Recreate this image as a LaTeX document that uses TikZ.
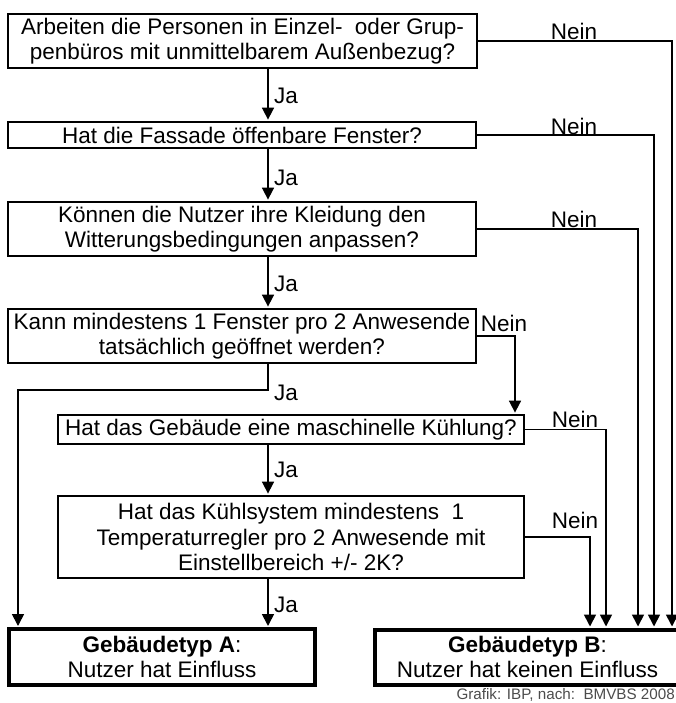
\documentclass[tikz,border=0pt]{standalone}
\usepackage{fontspec}
\setmainfont{Liberation Sans}
\usetikzlibrary{arrows.meta}
\newcommand\mainfs{\fontsize{22.5}{25.5}\selectfont}
\begin{document}
\begin{tikzpicture}[x=1pt,y=-1pt,
  qbox/.style={draw=black, line width=2.8pt, align=center, inner sep=0pt, font=\mainfs, text=black},
  rbox/.style={draw=black, line width=4pt, align=center, inner sep=0pt, font=\mainfs, text=black},
  lbl/.style={font=\mainfs, inner sep=0pt, text=black},
  conn/.style={line width=1.7pt},
  arr/.style={conn, -{Triangle[length=12pt,width=12pt]}, shorten >=1pt}]
\fill[white] (0,0) rectangle (676,703);
\path[use as bounding box, clip] (0,0) rectangle (676,703);

% question boxes
\node[qbox, minimum width=469pt, minimum height=54pt] (b1) at (242.5,41)
  {Arbeiten die Personen in Einzel-~ oder Grup-\\penbüros mit unmittelbarem Außenbezug?};
\node[qbox, minimum width=468pt, minimum height=26pt] (b2) at (242,135)
  {Hat die Fassade öffenbare Fenster?};
\node[qbox, minimum width=468pt, minimum height=54pt] (b3) at (242,229)
  {Können die Nutzer ihre Kleidung den\\Witterungsbedingungen anpassen?};
\node[qbox, minimum width=468pt, minimum height=54pt] (b4) at (242,336)
  {Kann mindestens 1 Fenster pro 2 Anwesende\\tatsächlich geöffnet werden?};
\node[qbox, minimum width=466pt, minimum height=29pt] (b5) at (291,429.5)
  {Hat das Gebäude eine maschinelle Kühlung?};
\node[qbox, minimum width=466pt, minimum height=82pt] (b6) at (291,537)
  {Hat das Kühlsystem mindestens~ 1\\Temperaturregler pro 2 Anwesende mit\\Einstellbereich +/- 2K?};

% result boxes
\node[rbox, minimum width=306pt, minimum height=56pt] (ba) at (162,657)
  {\textbf{Gebäudetyp A}:\\Nutzer hat Einfluss};
\node[rbox, minimum width=305pt, minimum height=55pt] (bb) at (527.5,657)
  {\textbf{Gebäudetyp B}:\\Nutzer hat keinen Einfluss};

% helper coordinates
\coordinate (jx) at (268,0);
\coordinate (jl) at (18,390);
\coordinate (n1) at (672,0);
\coordinate (n2) at (654,0);
\coordinate (n3) at (638,0);
\coordinate (n4) at (515,0);
\coordinate (n5) at (606,0);
\coordinate (n6) at (590,0);

% Ja connectors
\draw[arr] (b1.south -| jx) -- (b2.north -| jx);
\draw[arr] (b2.south -| jx) -- (b3.north -| jx);
\draw[arr] (b3.south -| jx) -- (b4.north -| jx);
\draw[arr] (b4.south -| jx) |- (jl) -- (jl |- ba.north);
\draw[arr] (b5.south -| jx) -- (b6.north -| jx);
\draw[arr] (b6.south -| jx) -- (ba.north -| jx);

% Nein connectors
\draw[arr] (b1.east) -| (n1 |- bb.north);
\draw[arr] (b2.east) -| (n2 |- bb.north);
\draw[arr] (b3.east) -| (n3 |- bb.north);
\draw[arr] (b4.east) -| (n4 |- b5.north);
\draw[arr] (b5.east) -| (n5 |- bb.north);
\draw[arr] (b6.east) -| (n6 |- bb.north);

% labels
\node[lbl, anchor=west] (ja1) at (274,96) {Ja};
\node[lbl, anchor=west] (ja2) at (274,178) {Ja};
\node[lbl, anchor=west] (ja3) at (274,284) {Ja};
\node[lbl, anchor=west] (ja4) at (274,393) {Ja};
\node[lbl, anchor=west] (ja5) at (274,470) {Ja};
\node[lbl, anchor=west] (ja6) at (274,605) {Ja};

\node[lbl] (ne1) at (574,31) {Nein};
\node[lbl] (ne2) at (574,126) {Nein};
\node[lbl] (ne3) at (574,219) {Nein};
\node[lbl] (ne4) at (504,323) {Nein};
\node[lbl] (ne5) at (575,419) {Nein};
\node[lbl] (ne6) at (575,520) {Nein};

% credit
\node[anchor=base east, inner sep=0pt, font=\fontsize{15.2}{17}\selectfont, text=black!70] (credit) at (675,699)
  {Grafik: IBP, nach:\ \ BMVBS 2008};
\end{tikzpicture}
\end{document}
